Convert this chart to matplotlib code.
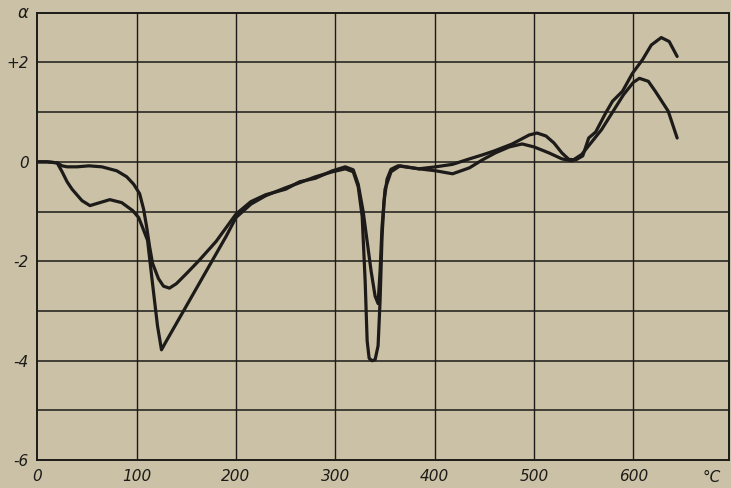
import matplotlib.pyplot as plt

# curve with the deep minima (-3.8 near 125 C, -4 near 340 C)
temp_a = [0, 10, 20, 25, 30, 35, 45, 53, 63, 73, 85, 96, 102, 106, 111, 116, 121, 125,
          130, 140, 150, 160, 170, 180, 190, 200, 215, 230, 250, 264, 280, 297, 310, 318,
          323, 327, 330, 332, 334, 337, 340, 343, 345, 347, 349, 352, 356, 363, 370, 384,
          401, 418, 435, 448, 460, 478, 495, 503, 512, 520, 528, 535, 542, 549, 555, 562,
          572, 579, 589, 599, 609, 618, 628, 636, 644]
alpha_a = [0, 0, -0.02, -0.2, -0.4, -0.55, -0.78, -0.88, -0.82, -0.76, -0.82, -0.98, -1.12,
           -1.32, -1.58, -2.45, -3.3, -3.78, -3.6, -3.25, -2.9, -2.55, -2.2, -1.85, -1.5,
           -1.12, -0.85, -0.68, -0.52, -0.42, -0.3, -0.2, -0.14, -0.2, -0.5, -1.1, -2.4,
           -3.6, -3.95, -4.0, -3.98, -3.7, -2.8, -1.5, -0.8, -0.35, -0.15, -0.08, -0.1,
           -0.14, -0.1, -0.05, 0.06, 0.14, 0.22, 0.36, 0.54, 0.58, 0.52, 0.38, 0.18, 0.05,
           0.04, 0.12, 0.48, 0.6, 0.98, 1.22, 1.42, 1.78, 2.05, 2.35, 2.5, 2.42, 2.12]

# curve with the shallower minima (-2.5 near 133 C, -2.85 near 342 C)
temp_b = [0, 10, 20, 25, 30, 40, 52, 65, 80, 90, 97, 103, 107, 110, 113, 116, 122, 127,
          133, 140, 150, 163, 180, 200, 215, 230, 250, 264, 280, 297, 310, 318, 323, 328,
          332, 336, 340, 343, 345, 347, 350, 356, 365, 384, 401, 418, 435, 448, 461, 475,
          488, 500, 515, 528, 538, 548, 558, 568, 579, 590, 600, 606, 615, 622, 635, 644]
alpha_b = [0, 0, -0.02, -0.08, -0.1, -0.1, -0.08, -0.1, -0.18, -0.3, -0.45, -0.64, -0.95,
           -1.3, -1.7, -2.04, -2.35, -2.5, -2.54, -2.45, -2.25, -1.98, -1.6, -1.05, -0.8,
           -0.66, -0.55, -0.4, -0.33, -0.18, -0.1, -0.16, -0.45, -1.0, -1.6, -2.2, -2.7,
           -2.85, -2.2, -1.3, -0.55, -0.2, -0.08, -0.14, -0.18, -0.24, -0.12, 0.04, 0.18,
           0.3, 0.36, 0.3, 0.18, 0.06, 0.02, 0.15, 0.4, 0.65, 1.0, 1.35, 1.6, 1.68, 1.62,
           1.42, 1.02, 0.48]

x_ticks = [0, 100, 200, 300, 400, 500, 600]
y_ticks = [2, 0, -2, -4, -6]
y_labels = ["+2", "0", "-2", "-4", "-6"]

paper = "#cbc1a6"
ink = "#1c1b19"

fig = plt.figure(figsize=(7.31, 4.88), dpi=100)
fig.patch.set_facecolor(paper)
ax = fig.add_axes([0.051, 0.057, 0.946, 0.917])
ax.set_facecolor(paper)

ax.plot(temp_a, alpha_a, color=ink, lw=2.3, solid_capstyle="round", solid_joinstyle="round")
ax.plot(temp_b, alpha_b, color=ink, lw=2.3, solid_capstyle="round", solid_joinstyle="round")

ax.set_xlim(0, 696)
ax.set_ylim(-6, 3)
for xv in range(100, 700, 100):
    ax.axvline(xv, color=ink, lw=1.0, zorder=0)
for yv in range(-5, 3):
    ax.axhline(yv, color=ink, lw=1.1, zorder=0)
for s in ax.spines.values():
    s.set_color(ink)
    s.set_linewidth(1.4)

ax.set_xticks(x_ticks)
ax.set_xticklabels([str(v) for v in x_ticks], fontstyle="italic", fontsize=11)
ax.set_yticks(y_ticks)
ax.set_yticklabels(y_labels, fontstyle="italic", fontsize=11)
ax.tick_params(length=0, pad=6, colors=ink)
ax.text(670, -6.35, "°C", fontstyle="italic", fontsize=11, color=ink, va="center")
ax.text(-0.012, 1.0, "α", transform=ax.transAxes, fontstyle="italic", fontsize=12,
        color=ink, ha="right", va="center")

plt.savefig("out.png", dpi=100, facecolor=paper)
